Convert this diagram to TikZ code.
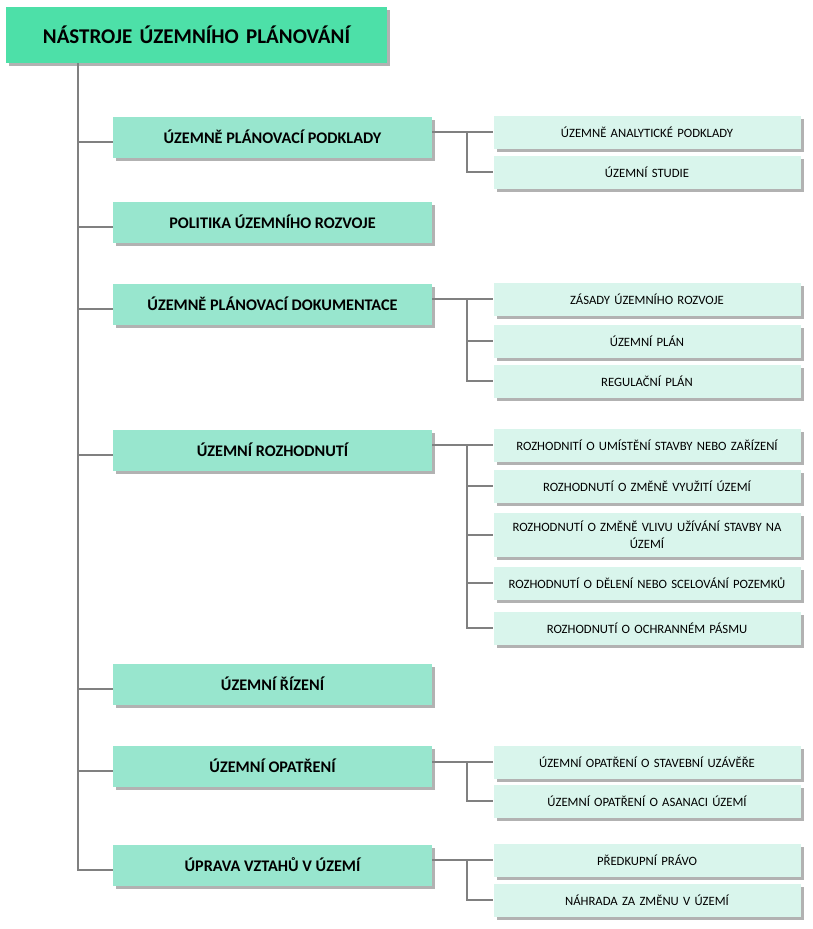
\documentclass[tikz,border=0pt]{standalone}
\usepackage{fontspec}
\setmainfont{Carlito}
\usetikzlibrary{shadows}
\definecolor{titlec}{HTML}{4DE0A8}
\definecolor{lvla}{HTML}{98E6CE}
\definecolor{lvlb}{HTML}{D9F5EC}
\definecolor{linec}{HTML}{808080}
\tikzset{
  shad/.style={drop shadow={shadow xshift=3pt,shadow yshift=-3pt,fill=black!30,opacity=1}},
  titlebox/.style={shad,fill=titlec,minimum width=381pt,minimum height=56pt,inner sep=0pt,
    font=\fontsize{21}{25}\selectfont\bfseries},
  boxa/.style={shad,fill=lvla,minimum width=319pt,minimum height=41pt,inner sep=0pt,
    font=\fontsize{16.2}{19}\selectfont\bfseries},
  boxb/.style={shad,fill=lvlb,minimum width=307pt,minimum height=33pt,inner sep=0pt,
    font=\fontsize{12.7}{17}\selectfont,align=center,text width=300pt},
  conn/.style={draw=linec,line width=1.4pt}
}
\begin{document}
\begin{tikzpicture}[x=1pt,y=-1pt]
\useasboundingbox (0,0) rectangle (813,929);
\node[titlebox] (t) at (196.5,35) {NÁSTROJE\hspace{0.12em} ÚZEMNÍHO\hspace{0.12em} PLÁNOVÁNÍ};
% level 1
\node[boxa] (a1) at (272.5,137) {ÚZEMNĚ PLÁNOVACÍ PODKLADY};
\node[boxa] (a2) at (272.5,222) {POLITIKA ÚZEMNÍHO ROZVOJE};
\node[boxa] (a3) at (272.5,304) {ÚZEMNĚ PLÁNOVACÍ DOKUMENTACE};
\node[boxa] (a4) at (272.5,450) {ÚZEMNÍ ROZHODNUTÍ};
\node[boxa] (a5) at (272.5,684) {ÚZEMNÍ ŘÍZENÍ};
\node[boxa] (a6) at (272.5,766) {ÚZEMNÍ OPATŘENÍ};
\node[boxa] (a7) at (272.5,865) {ÚPRAVA VZTAHŮ V ÚZEMÍ};
% level 2
\node[boxb] (b11) at (647,132) {ÚZEMNĚ ANALYTICKÉ PODKLADY};
\node[boxb] (b12) at (647,172) {ÚZEMNÍ STUDIE};
\node[boxb] (b31) at (647,299) {ZÁSADY ÚZEMNÍHO ROZVOJE};
\node[boxb] (b32) at (647,341) {ÚZEMNÍ PLÁN};
\node[boxb] (b33) at (647,381) {REGULAČNÍ PLÁN};
\node[boxb] (b41) at (647,445) {ROZHODNITÍ O UMÍSTĚNÍ STAVBY NEBO ZAŘÍZENÍ};
\node[boxb] (b42) at (647,486) {ROZHODNUTÍ O ZMĚNĚ VYUŽITÍ ÚZEMÍ};
\node[boxb,minimum height=44pt] (b43) at (647,535) {ROZHODNUTÍ O ZMĚNĚ VLIVU UŽÍVÁNÍ STAVBY NA\\ÚZEMÍ};
\node[boxb] (b44) at (647,583) {ROZHODNUTÍ O DĚLENÍ NEBO SCELOVÁNÍ POZEMKŮ};
\node[boxb] (b45) at (647,628) {ROZHODNUTÍ O OCHRANNÉM PÁSMU};
\node[boxb] (b61) at (647,762) {ÚZEMNÍ OPATŘENÍ O STAVEBNÍ UZÁVĚŘE};
\node[boxb] (b62) at (647,801) {ÚZEMNÍ OPATŘENÍ O ASANACI ÚZEMÍ};
\node[boxb] (b71) at (647,860) {PŘEDKUPNÍ PRÁVO};
\node[boxb] (b72) at (647,900) {NÁHRADA ZA ZMĚNU V ÚZEMÍ};
% main trunk
\coordinate (tr) at (78,0);
\draw[conn] (tr |- t.south) -- ([yshift=-5pt]tr |- a7.west) -- ([yshift=-5pt]a7.west);
\foreach \n in {a1,a2,a3,a4,a5,a6}{
  \draw[conn] ([yshift=-5pt]tr |- \n.west) -- ([yshift=-5pt]\n.west);
}
% branches
\coordinate (br) at (467,0);
\draw[conn] (a1.east |- b11.west) -- (b11.west);
\draw[conn] (br |- b11.west) |- (b12.west);
\draw[conn] (a3.east |- b31.west) -- (b31.west);
\draw[conn] (br |- b31.west) |- (b33.west);
\draw[conn] (br |- b32.west) -- (b32.west);
\draw[conn] (a4.east |- b41.west) -- (b41.west);
\draw[conn] (br |- b41.west) |- (b45.west);
\foreach \n in {b42,b43,b44}{\draw[conn] (br |- \n.west) -- (\n.west);}
\draw[conn] (a6.east |- b61.west) -- (b61.west);
\draw[conn] (br |- b61.west) |- (b62.west);
\draw[conn] (a7.east |- b71.west) -- (b71.west);
\draw[conn] (br |- b71.west) |- (b72.west);
\end{tikzpicture}
\end{document}
